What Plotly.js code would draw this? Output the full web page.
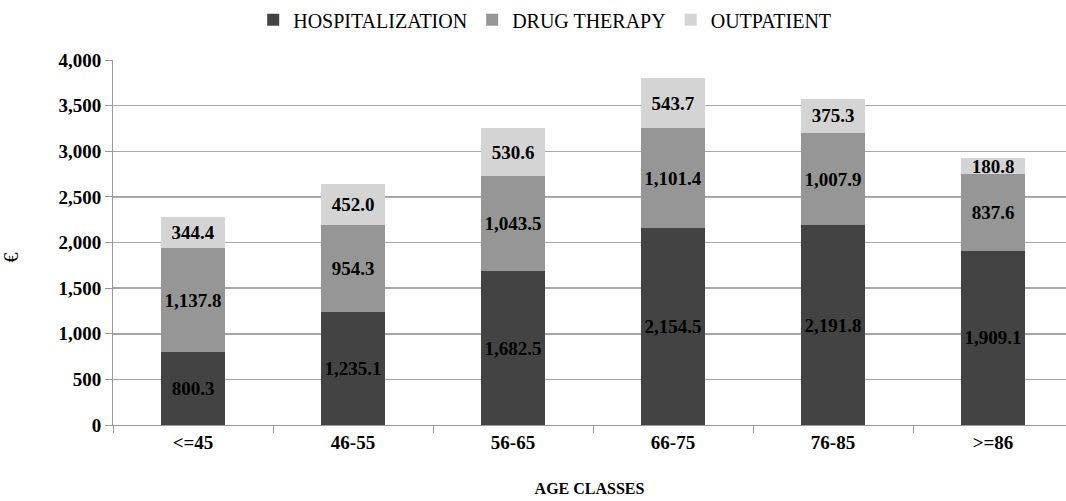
<!DOCTYPE html>
<html><head><meta charset="utf-8">
<script src="https://cdn.plot.ly/plotly-3.0.1.min.js"></script>
<style>body{margin:0;background:#fff}</style>
</head><body>
<div id="chart" style="width:1066px;height:501px"></div>
<script>
const categories = ["<=45", "46-55", "56-65", "66-75", "76-85", ">=86"];
const hospitalization = [800.3, 1235.1, 1682.5, 2154.5, 2191.8, 1909.1];
const drugTherapy = [1137.8, 954.3, 1043.5, 1101.4, 1007.9, 837.6];
const outpatient = [344.4, 452.0, 530.6, 543.7, 375.3, 180.8];
const seriesNames = ["HOSPITALIZATION", "DRUG THERAPY", "OUTPATIENT"];
const colors = ["#434343", "#969696", "#d4d4d4"];

const serif = "Liberation Serif";
function mk(vals, i) {
  return {
    type: "bar", x: categories, y: vals, name: seriesNames[i],
    marker: {color: colors[i]},
    texttemplate: "%{y:,.1f}", textposition: "inside", insidetextanchor: "middle",
    constraintext: "none", textangle: 0,
    textfont: {family: serif, size: 19, color: "#000", weight: "bold"},
    hoverinfo: "skip"
  };
}
const data = [mk(hospitalization, 0), mk(drugTherapy, 1), mk(outpatient, 2)];
const layout = {
  width: 1066, height: 501,
  margin: {l: 113, r: 0, t: 60, b: 76},
  barmode: "stack", bargap: 0.6,
  paper_bgcolor: "#fff", plot_bgcolor: "#fff",
  font: {family: serif, color: "#000"},
  showlegend: true,
  legend: {orientation: "h", x: 0.453, xanchor: "center", y: 1.11, yanchor: "middle",
    font: {family: serif, size: 20, color: "#000"}, itemwidth: 30, traceorder: "normal"},
  xaxis: {
    range: [-0.5, 5.456], tickson: "boundaries", ticks: "outside", ticklen: 7, tickcolor: "#999",
    showline: true, linecolor: "#999", linewidth: 1,
    tickfont: {family: serif, size: 19, color: "#000", weight: "bold"},
    title: {text: "AGE CLASSES", font: {family: serif, size: 16, color: "#000", weight: "bold"}, standoff: 31}
  },
  yaxis: {
    range: [0, 4000], dtick: 500, tickformat: ",d",
    ticks: "outside", ticklen: 7, tickcolor: "#999",
    showline: true, linecolor: "#999", linewidth: 1,
    showgrid: true, gridcolor: "#a6a6a6", gridwidth: 1.5, zeroline: false,
    tickfont: {family: serif, size: 19, color: "#000", weight: "bold"},
    title: {text: "€&nbsp;&nbsp;&nbsp;&nbsp;&nbsp;&nbsp;", font: {family: serif, size: 20, color: "#000"}, standoff: 36}
  }
};
Plotly.newPlot("chart", data, layout, {displayModeBar: false, staticPlot: true});
</script>
</body></html>
